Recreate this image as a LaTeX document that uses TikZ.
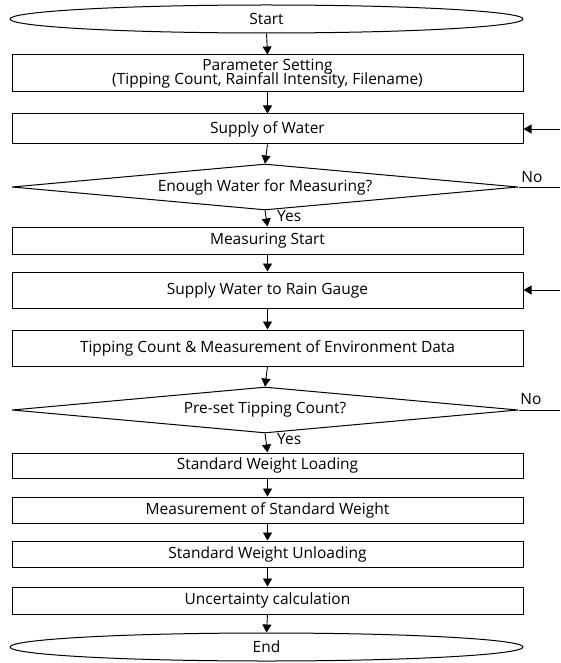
\documentclass[tikz,border=0pt]{standalone}
\usepackage{fontspec}
\setmainfont{Open Sans}
\usetikzlibrary{positioning, arrows.meta, shapes.geometric}

\begin{document}
\begin{tikzpicture}[
        x=1pt, y=-1pt,
        font=\fontsize{15.5}{17}\selectfont,
        terminal/.style={
            ellipse, draw=black, line width=1pt, minimum width=513pt,
            minimum height=28pt, inner sep=0pt
        },
        process/.style={
            rectangle, draw=black, line width=1pt, minimum width=511pt,
            text centered, inner sep=0pt, align=center
        },
        decision/.style={
            diamond, draw=black, line width=1pt, aspect=11, minimum width=506pt,
            minimum height=46pt, inner sep=0pt
        },
        arrow/.style={line width=0.9pt,-{Triangle[width=9pt,length=8pt]}},
        noline/.style={line width=0.9pt}
    ]
    \useasboundingbox (0,0) rectangle (560,663);

    % Main flow
    \node (start) [terminal] at (266.5,19) {Start};
    \node (param) [process, minimum height=37pt] at (267.5,73.5) {
        Parameter Setting\\[-3pt]
        (Tipping Count, Rainfall Intensity, Filename)
    };
    \node (water) [process, minimum height=30pt] at (267.5,129) {Supply of Water};
    \node (enough) [decision] at (265,187) {Enough Water for Measuring?};
    \node (measure) [process, minimum height=27pt] at (267.5,240.5) {Measuring Start};
    \node (gauge) [process, minimum height=36pt] at (267.5,290) {Supply Water to Rain Gauge};
    \node (tipping) [process, minimum height=36pt] at (267.5,348) {Tipping Count \& Measurement of Environment Data};
    \node (preset) [decision] at (265,410) {Pre-set Tipping Count?};
    \node (loading) [process, minimum height=25pt] at (267.5,465.5) {Standard Weight Loading};
    \node (weight) [process, minimum height=26pt] at (267.5,510) {Measurement of Standard Weight};
    \node (unloading) [process, minimum height=26pt] at (267.5,554) {Standard Weight Unloading};
    \node (uncert) [process, minimum height=27pt] at (267.5,600.5) {Uncertainty calculation};
    \node (finish) [terminal] at (266.5,647) {End};

    % Forward arrows
    \draw [arrow] (start.south) -- (param.north);
    \draw [arrow] (param.south) -- (water.north);
    \draw [arrow] (water.south) -- (enough.north);
    \draw [arrow] (enough.south) -- (measure.north);
    \draw [arrow] (measure.south) -- (gauge.north);
    \draw [arrow] (gauge.south) -- (tipping.north);
    \draw [arrow] (tipping.south) -- (preset.north);
    \draw [arrow] (preset.south) -- (loading.north);
    \draw [arrow] (loading.south) -- (weight.north);
    \draw [arrow] (weight.south) -- (unloading.north);
    \draw [arrow] (unloading.south) -- (uncert.north);
    \draw [arrow] (uncert.south) -- (finish.north);

    % Yes labels
    \node (yes1) [anchor=west, inner sep=0pt] at (277,216) {Yes};
    \node (yes2) [anchor=west, inner sep=0pt] at (277,439) {Yes};

    % No branches and returns at the right edge
    \coordinate (no1end) at (560,187);
    \coordinate (no2end) at (560,410);
    \coordinate (back1) at (560,129);
    \coordinate (back2) at (560,290);
    \draw [noline] (enough.east) -- (no1end);
    \draw [noline] (preset.east) -- (no2end);
    \node (no1) [inner sep=0pt] at (532,177) {No};
    \node (no2) [inner sep=0pt] at (531,399) {No};
    \draw [arrow] (back1) -- (water.east);
    \draw [arrow] (back2) -- (gauge.east);

\end{tikzpicture}
\end{document}
